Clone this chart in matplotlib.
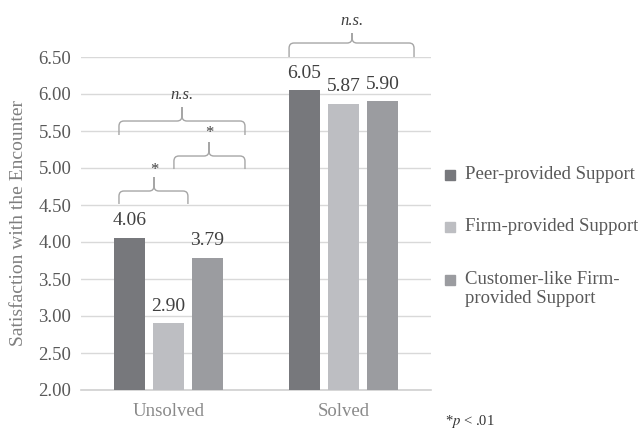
import numpy as np
import matplotlib
matplotlib.use("Agg")
import matplotlib.pyplot as plt
from matplotlib.path import Path
from matplotlib.patches import PathPatch, Rectangle

plt.rcParams['font.family'] = ['Liberation Serif', 'DejaVu Serif']
plt.rcParams['mathtext.fontset'] = 'stix'

# data
conditions = ["Unsolved", "Solved"]
series_names = ["Peer-provided Support", "Firm-provided Support",
                "Customer-like Firm-\nprovided Support"]
peer = [4.06, 6.05]
firm = [2.90, 5.87]
customer_like = [3.79, 5.90]
yticks = [2.00, 2.50, 3.00, 3.50, 4.00, 4.50, 5.00, 5.50, 6.00, 6.50]

colors = ["#77787c", "#bdbec2", "#9b9ca0"]
label_gray = "#595959"
value_gray = "#404040"

fig = plt.figure(figsize=(6.38, 4.29), dpi=100)
ax = fig.add_axes([81 / 638, 39 / 429, 350 / 638, 333 / 429])

x = np.arange(len(conditions))
width = 0.177
step = 0.223
for i, (vals, c) in enumerate(zip([peer, firm, customer_like], colors)):
    xs = x + (i - 1) * step
    ax.bar(xs, vals, width=width, color=c, zorder=3)
    for xi, v in zip(xs, vals):
        ax.text(xi, v + 0.11, f"{v:.2f}", ha="center", va="bottom",
                fontsize=14, color=value_gray)

ax.set_xlim(-0.5, 1.5)
ax.set_ylim(2.0, 6.5)
ax.set_yticks(yticks)
ax.set_yticklabels([f"{t:.2f}" for t in yticks], fontsize=13.5, color=label_gray)
ax.set_xticks(x)
ax.set_xticklabels(conditions, fontsize=13.5, color="#8a8a8a")
ax.tick_params(axis="y", length=0, pad=7)
ax.tick_params(axis="x", length=0, pad=9)
ax.grid(axis="y", color="#d9d9d9", linewidth=1, zorder=0)
for s in ["top", "right", "left"]:
    ax.spines[s].set_visible(False)
ax.spines["bottom"].set_color("#d0d0d0")
ax.spines["bottom"].set_linewidth(1.2)
ax.set_ylabel("Satisfaction with the Encounter", fontsize=14,
              color="#7f7f7f", labelpad=8)


def brace(ax, x0, x1, xt, yb, yh, ytop, rx=0.028, ry=0.07):
    verts = [(x0, yb), (x0, yh - ry), (x0, yh), (x0 + rx, yh),
             (xt - rx, yh), (xt, yh), (xt, yh + ry), (xt, ytop),
             (xt, ytop), (xt, yh + ry), (xt, yh), (xt + rx, yh),
             (x1 - rx, yh), (x1, yh), (x1, yh - ry), (x1, yb)]
    codes = [Path.MOVETO, Path.LINETO, Path.CURVE3, Path.CURVE3,
             Path.LINETO, Path.CURVE3, Path.CURVE3, Path.LINETO,
             Path.MOVETO, Path.LINETO, Path.CURVE3, Path.CURVE3,
             Path.LINETO, Path.CURVE3, Path.CURVE3, Path.LINETO]
    ax.add_patch(PathPatch(Path(verts, codes), fill=False, edgecolor="#a6a6a6",
                           linewidth=1, clip_on=False, zorder=4))


# significance braces: (left, right, tip, leg bottom, bar, tip top, label, label y)
braces = [
    (-0.283, 0.437, 0.077, 5.446, 5.635, 5.824, "n.s.", 5.88),
    (0.031, 0.437, 0.231, 4.986, 5.162, 5.351, "*", 5.36),
    (-0.283, 0.111, -0.083, 4.514, 4.689, 4.878, "*", 4.87),
    (0.689, 1.403, 1.049, 6.500, 6.689, 6.824, "n.s.", 6.88),
]
for x0, x1, xt, yb, yh, ytop, lab, ly in braces:
    brace(ax, x0, x1, xt, yb, yh, ytop)
    ax.text(xt, ly, lab, ha="center", va="bottom", fontsize=12,
            color="#404040", style="italic" if lab != "*" else "normal",
            clip_on=False)

# legend drawn by hand
leg_rows = [175, 227, 280]
for name, c, yp in zip(series_names, colors, leg_rows):
    fig.patches.append(Rectangle((445 / 638, 1 - (yp + 5) / 429), 10 / 638, 10 / 429,
                                 transform=fig.transFigure, color=c))
    fig.text(465 / 638, 1 - (yp - 9) / 429, name, ha="left", va="top",
             fontsize=13.5, color=label_gray, linespacing=1.15)

fig.text(445 / 638, 1 - 422 / 429, r"*$p$ < .01", ha="left", va="center",
         fontsize=10.5, color="#333333")

fig.savefig("out.png", dpi=100)
